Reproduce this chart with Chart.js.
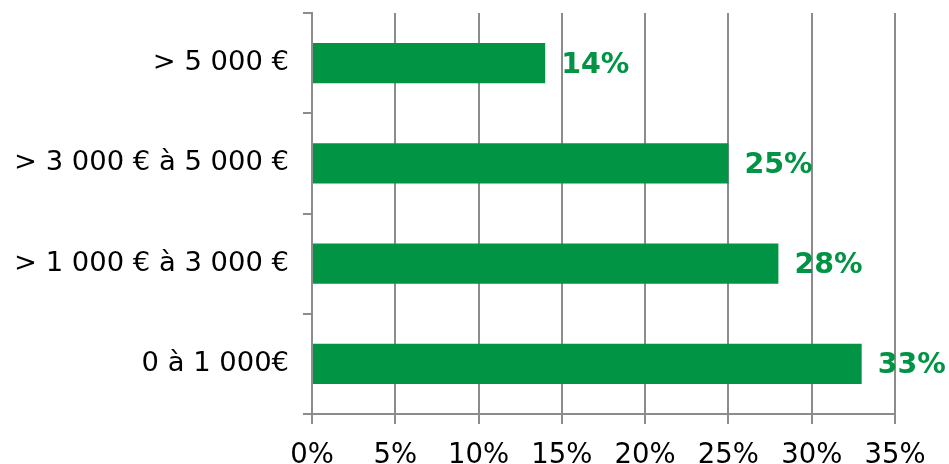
<!DOCTYPE html>
<html>
<head>
<meta charset="utf-8">
<script src="https://cdn.jsdelivr.net/npm/chart.js@4/dist/chart.umd.min.js"></script>
<style>
  html, body { margin: 0; padding: 0; background: #fff; }
  #wrap { width: 949px; height: 464px; position: relative; }
</style>
</head>
<body>
<div id="wrap"><canvas id="chartIncome"></canvas></div>
<script>
// tranches de revenus, du haut vers le bas
const categories = ['> 5 000 €', '> 3 000 € à 5 000 €', '> 1 000 € à 3 000 €', '0 à 1 000€'];
const shares     = [14, 25, 28, 33];
const xTicks     = [0, 5, 10, 15, 20, 25, 30, 35];

const GREEN = '#009444';
const GRID  = '#8c8c8c';
const FONT  = "'DejaVu Sans', Verdana, sans-serif";

// labels "14%" à droite des barres
const valueLabels = {
  id: 'valueLabels',
  afterDatasetsDraw(chart) {
    const ctx = chart.ctx;
    const meta = chart.getDatasetMeta(0);
    ctx.save();
    ctx.fillStyle = GREEN;
    ctx.font = 'bold 28.5px ' + FONT;
    ctx.textAlign = 'left';
    ctx.textBaseline = 'middle';
    meta.data.forEach((bar, i) => {
      ctx.fillText(shares[i] + '%', bar.x + 16, bar.y + 2);
    });
    ctx.restore();
  }
};

const ctx = document.getElementById('chartIncome').getContext('2d');
new Chart(ctx, {
  type: 'bar',
  data: {
    labels: categories,
    datasets: [{
      data: shares,
      backgroundColor: GREEN,
      borderWidth: 0,
      barPercentage: 0.4,
      categoryPercentage: 1
    }]
  },
  options: {
    indexAxis: 'y',
    responsive: true,
    maintainAspectRatio: false,
    animation: false,
    layout: { padding: { top: 13, right: 54, bottom: 0, left: 0 } },
    plugins: {
      legend: { display: false },
      tooltip: { enabled: false }
    },
    scales: {
      x: {
        min: 0,
        max: 35,
        afterBuildTicks(scale) {
          scale.ticks = xTicks.map(v => ({ value: v }));
        },
        grid: { color: GRID, lineWidth: 2, tickLength: 10 },
        border: { color: GRID, width: 2 },
        ticks: {
          color: '#000',
          font: { family: FONT, size: 27.5 },
          padding: 15,
          maxRotation: 0,
          callback: v => v + '%'
        },
        afterFit(scale) { scale.height = 50; }
      },
      y: {
        grid: { color: GRID, lineWidth: 2, tickLength: 9, drawOnChartArea: false, offset: true },
        border: { color: GRID, width: 2 },
        ticks: {
          color: '#000',
          font: { family: FONT, size: 27.4 },
          padding: 14
        },
        afterFit(scale) {
          scale.width = 312;
          scale.paddingTop = 0;
          scale.paddingBottom = 0;
        }
      }
    }
  },
  plugins: [valueLabels]
});
</script>
</body>
</html>
